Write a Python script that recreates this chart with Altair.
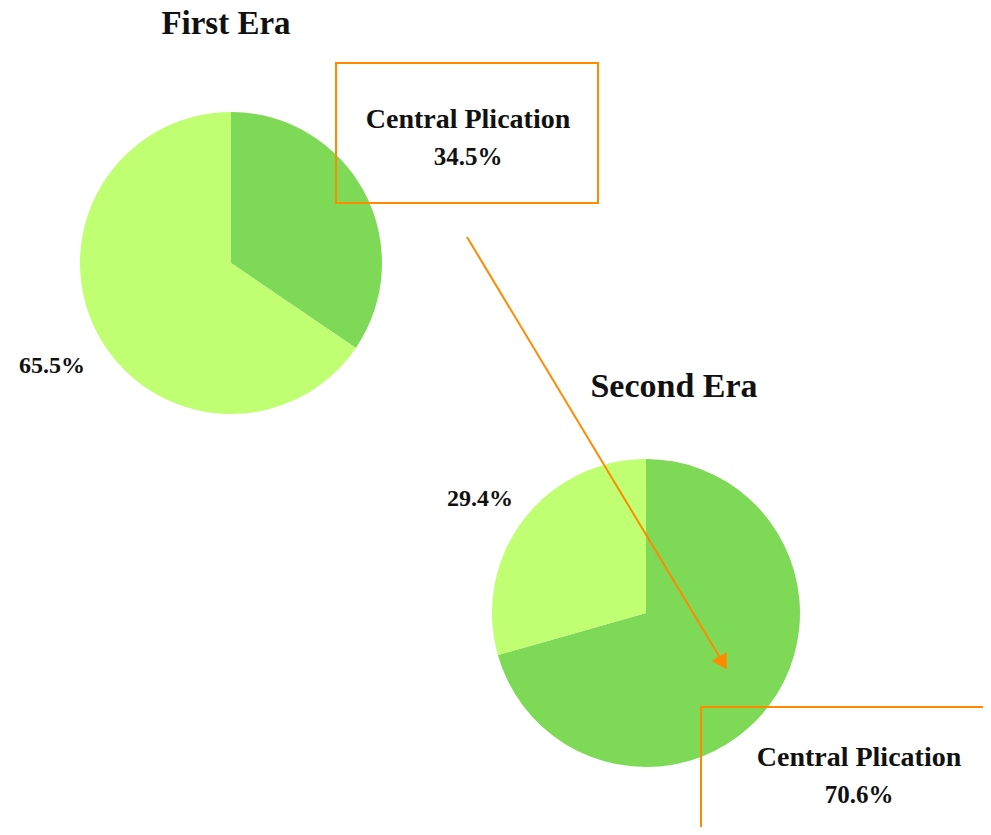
import altair as alt
import pandas as pd

# ---- data ----
eras = ["First Era", "Second Era"]
categories = ["Central Plication", "Other"]
first_values = [34.5, 65.5]
second_values = [70.6, 29.4]
colors = ["#7ED957", "#C1FF72"]

ORANGE = "#FF8A00"
SERIF = "Liberation Serif"

W, H = 975, 819

def pie_df(values):
    return pd.DataFrame({"category": categories, "value": values, "order": [0, 1]})

color_scale = alt.Scale(domain=categories, range=colors)

def pie(values, cx, cy, r):
    return alt.Chart(pie_df(values)).mark_arc(outerRadius=r, stroke=None).encode(
        theta=alt.Theta("value:Q", stack=True),
        color=alt.Color("category:N", scale=color_scale, legend=None),
        order=alt.Order("order:Q"),
        x=alt.value(cx),
        y=alt.value(cy),
    )

base = alt.Chart(pd.DataFrame({"k": [0]}))

def text(t, x, y, size, font=SERIF):
    return base.mark_text(
        text=t, font=font, fontSize=size, fontWeight="bold", color="#111111",
        align="center", baseline="alphabetic"
    ).encode(x=alt.value(x), y=alt.value(y))

def box(x, y, x2, y2):
    return base.mark_rect(fill=None, stroke=ORANGE, strokeWidth=2).encode(
        x=alt.value(x), y=alt.value(y), x2=alt.value(x2), y2=alt.value(y2)
    )

pie1 = pie(first_values, 223, 255, 151)
pie2 = pie(second_values, 638, 605, 154)

title1 = text(eras[0], 218, 26, 33)
title2 = text(eras[1], 666, 389, 34)

lab1a = text(categories[0], 460, 120, 28)
lab1b = text(f"{first_values[0]}%", 460, 157, 25)
lab1c = text(f"{first_values[1]}%", 44, 365, 24)

lab2a = text(categories[0], 851, 758, 28)
lab2b = text(f"{second_values[0]}%", 851, 795, 25)
lab2c = text(f"{second_values[1]}%", 472, 498, 24)

box1 = box(328, 55, 590, 195)
box2 = box(693, 699, 1010, 900)

arrow_line = base.mark_rule(color=ORANGE, strokeWidth=2).encode(
    x=alt.value(459), y=alt.value(229), x2=alt.value(714), y2=alt.value(653)
)
arrow_head = base.mark_point(
    shape="triangle-down", filled=True, color=ORANGE, size=300, angle=329, opacity=1
).encode(x=alt.value(715), y=alt.value(655))

chart = alt.layer(
    pie1, pie2, box1, box2, arrow_line, arrow_head,
    title1, title2, lab1a, lab1b, lab1c, lab2a, lab2b, lab2c,
).properties(
    width=W, height=H,
    autosize=alt.AutoSizeParams(type="none"),
    padding=0,
).configure_view(stroke=None)

chart.save("out.html", embed_options={"renderer": "svg", "actions": False})
